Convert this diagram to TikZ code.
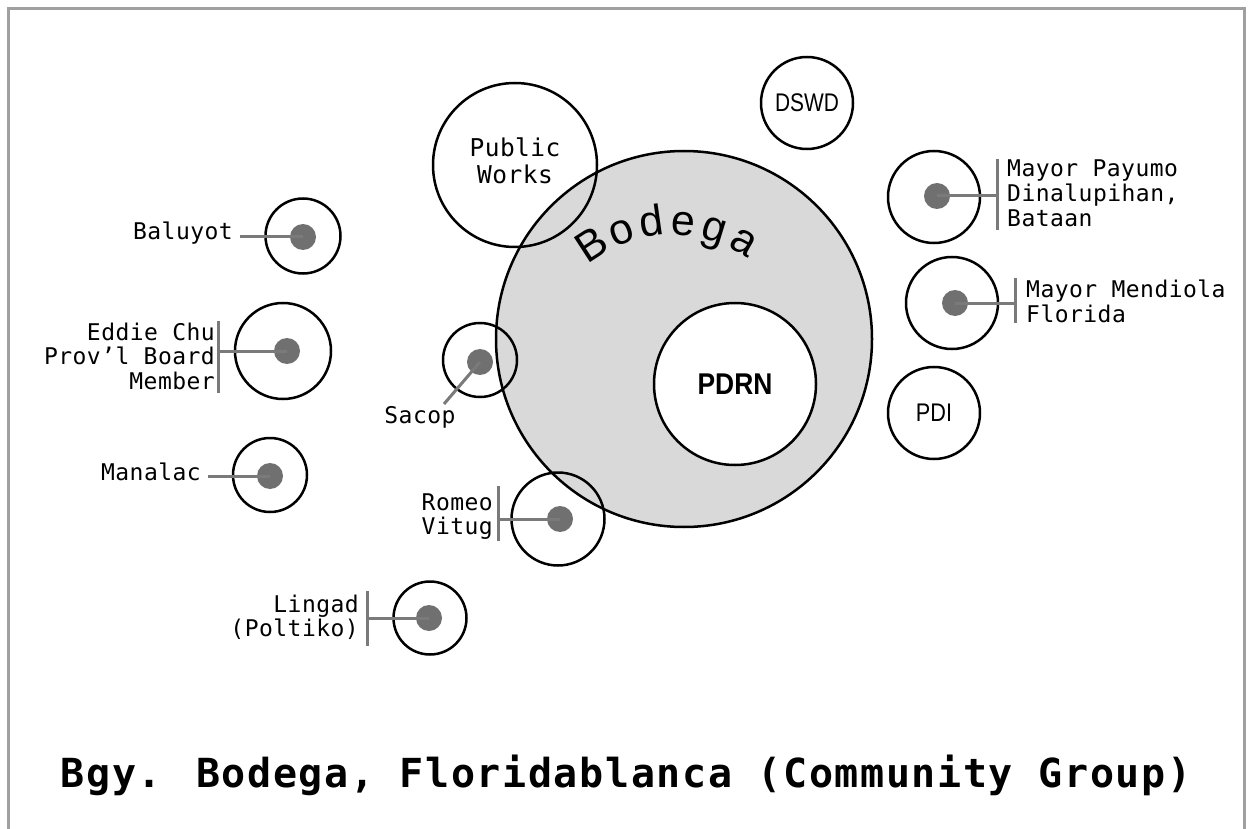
\documentclass[tikz,border=0pt]{standalone}
\usepackage{fontspec}
\setmainfont{Liberation Sans}
\newfontfamily\monofont[LetterSpace=2]{DejaVu Sans Mono}
\newfontfamily\titlemono[LetterSpace=4]{DejaVu Sans Mono}
\usetikzlibrary{calc}
\definecolor{bodegagray}{HTML}{D9D9D9}
\definecolor{dotgray}{HTML}{707070}
\definecolor{leadgray}{HTML}{7A7A7A}
\definecolor{framegray}{HTML}{A0A0A0}
\newcommand\lblfont{\monofont\fontsize{23}{24.5}\selectfont}
\newcommand\pwfont{\monofont\fontsize{24.5}{27}\selectfont}
\newcommand\sansorg{\fontsize{25.5}{27}\selectfont}
\newcommand\ttlfont{\titlemono\bfseries\fontsize{40}{44}\selectfont}
\tikzset{
  ring/.style={circle, draw=black, line width=2.5pt, inner sep=0pt},
  dotn/.style={circle, fill=dotgray, minimum size=26pt, inner sep=0pt},
  lead/.style={draw=leadgray, line width=3pt},
  lbl/.style={font=\lblfont, inner sep=0pt},
  bodegach/.style={font=\fontsize{43}{45}\selectfont, inner sep=0pt, anchor=base},
  framestyle/.style={draw=framegray, line width=3pt},
}
\begin{document}
\begin{tikzpicture}[x=1pt,y=-1pt]
\useasboundingbox (0,0) rectangle (1248,829);
% frame
\coordinate (fbl) at (8,829);
\coordinate (ftl) at (8,9);
\coordinate (ftr) at (1244,9);
\coordinate (fbr) at (1244,829);
\draw[framestyle] (fbl) -- (ftl) -- (ftr) -- (fbr);

% Bodega big circle
\node[ring, fill=bodegagray, minimum size=376pt] (bodega) at (684,339) {};
\node[ring, minimum size=164pt, font=\pwfont] (pw) at (515,165)
  {\begin{tabular}{@{}c@{}}Public\\Works\end{tabular}};
\node[ring, fill=white, minimum size=162pt, font=\bfseries\fontsize{30}{32}\selectfont] (pdrn) at (735,384) {\scalebox{0.88}[1]{PDRN}};
\node[ring, minimum size=92pt, font=\sansorg] (dswd) at (807,103) {\scalebox{0.82}[1]{DSWD}};
\node[ring, minimum size=92pt, font=\sansorg] (pdi) at (934,413) {\scalebox{0.85}[1]{PDI}};

% Bodega curved lettering
\node[bodegach, rotate=33]   (b1) at (599.6,256.5) {B};
\node[bodegach, rotate=20.5] (b2) at (625.4,243.4) {o};
\node[bodegach, rotate=8]    (b3) at (653.5,236.3) {d};
\node[bodegach, rotate=-4.5] (b4) at (682.4,235.4) {e};
\node[bodegach, rotate=-17]  (b5) at (710.9,240.8) {g};
\node[bodegach, rotate=-29.5](b6) at (737.5,252.2) {a};

% person rings
\node[ring, minimum size=92pt] (payR) at (934,197) {};
\node[ring, minimum size=92pt] (menR) at (952,303) {};
\node[ring, minimum size=75pt] (balR) at (303,236) {};
\node[ring, minimum size=96pt] (eddR) at (283,351) {};
\node[ring, minimum size=74pt] (sacR) at (480,360) {};
\node[ring, minimum size=74pt] (manR) at (270,475) {};
\node[ring, minimum size=93pt] (romR) at (558,519) {};
\node[ring, minimum size=73pt] (linR) at (430,618) {};

% dots
\node[dotn] (payD) at (937,196) {};
\node[dotn] (menD) at (955,303) {};
\node[dotn] (balD) at (303,237) {};
\node[dotn] (eddD) at (287,351) {};
\node[dotn] (sacD) at (480,362) {};
\node[dotn] (manD) at (270,476) {};
\node[dotn] (romD) at (560,519) {};
\node[dotn] (linD) at (429,618) {};

% lead points
\coordinate (payB) at (997,196);
\coordinate (payB1) at (997,159);
\coordinate (payB2) at (997,230);
\coordinate (menB) at (1015,303);
\coordinate (menB1) at (1015,278);
\coordinate (menB2) at (1015,323);
\coordinate (balB) at (240,237);
\coordinate (eddB) at (218,351);
\coordinate (eddB1) at (218,321);
\coordinate (eddB2) at (218,393);
\coordinate (sacB) at (444,404);
\coordinate (manB) at (208,476);
\coordinate (romB) at (498,519);
\coordinate (romB1) at (498,486);
\coordinate (romB2) at (498,541);
\coordinate (linB) at (367,618);
\coordinate (linB1) at (367,591);
\coordinate (linB2) at (367,646);

% leads
\draw[lead] (payD.center) -- (payB);
\draw[lead] (payB1) -- (payB2);
\draw[lead] (menD.center) -- (menB);
\draw[lead] (menB1) -- (menB2);
\draw[lead] (balD.center) -- (balB);
\draw[lead] (eddD.center) -- (eddB);
\draw[lead] (eddB1) -- (eddB2);
\draw[lead] (sacD.center) -- (sacB);
\draw[lead] (manD.center) -- (manB);
\draw[lead] (romD.center) -- (romB);
\draw[lead] (romB1) -- (romB2);
\draw[lead] (linD.center) -- (linB);
\draw[lead] (linB1) -- (linB2);

% labels
\node[lbl, anchor=base west] (payT) at (1007,177)
  {\begin{tabular}[t]{@{}l@{}}Mayor Payumo\\Dinalupihan,\\Bataan\end{tabular}};
\node[lbl, anchor=base west] (menT) at (1026,298)
  {\begin{tabular}[t]{@{}l@{}}Mayor Mendiola\\Florida\end{tabular}};
\node[lbl, anchor=base east] (balT) at (233,240) {Baluyot};
\node[lbl, anchor=base east] (eddT) at (215,340)
  {\begin{tabular}[t]{@{}r@{}}Eddie Chu\\Prov’l Board\\Member\end{tabular}};
\node[lbl, anchor=base] (sacT) at (420,423) {Sacop};
\node[lbl, anchor=base east] (manT) at (201,480) {Manalac};
\node[lbl, anchor=base east] (romT) at (493,510)
  {\begin{tabular}[t]{@{}r@{}}Romeo\\Vitug\end{tabular}};
\node[lbl, anchor=base east] (linT) at (359,612)
  {\begin{tabular}[t]{@{}r@{}}Lingad\\(Poltiko)\end{tabular}};

% title
\node[font=\ttlfont, inner sep=0pt, anchor=base] (title) at (626,787)
  {Bgy. Bodega, Floridablanca (Community Group)};
\end{tikzpicture}
\end{document}
